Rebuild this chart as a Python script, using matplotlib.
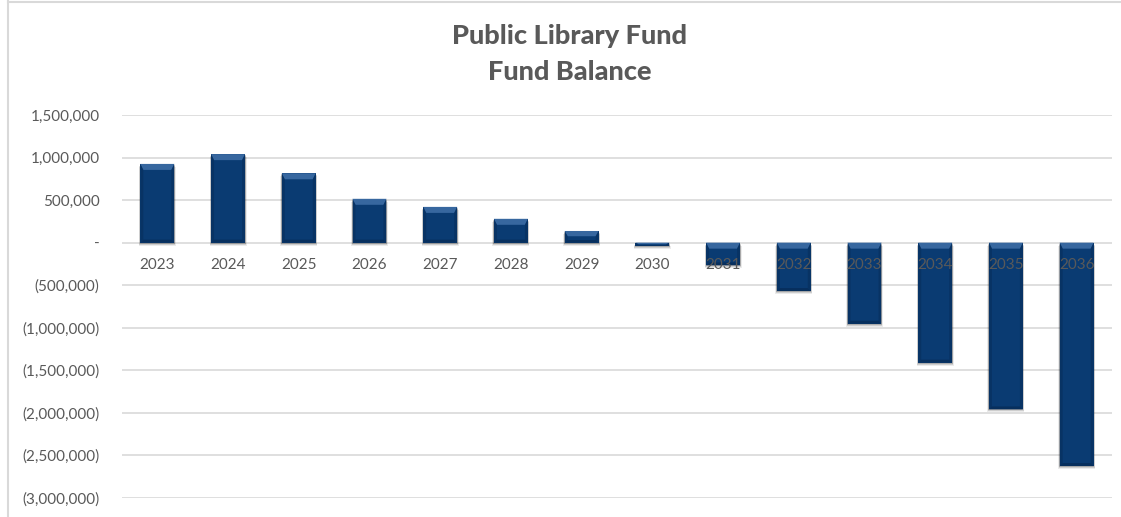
import numpy as np
import matplotlib
matplotlib.use("Agg")
import matplotlib.pyplot as plt
from matplotlib.patches import Polygon, Rectangle
from matplotlib.ticker import FuncFormatter

plt.rcParams.update({"font.family": ["Lato", "DejaVu Sans"]})

# fund balance by fiscal year
years = ["2023", "2024", "2025", "2026", "2027", "2028", "2029",
         "2030", "2031", "2032", "2033", "2034", "2035", "2036"]
balance = [925000, 1040000, 815000, 515000, 420000, 280000, 137000,
           -40000, -267000, -569000, -953000, -1410000, -1960000, -2625000]

TXT = "#595959"
GRID = "#d9d9d9"
NAVY = "#0a3b72"
NAVY_LIGHT = "#37679f"
NAVY_DARK = "#062a55"

fig = plt.figure(figsize=(11.21, 5.17), dpi=100)
ax = fig.add_axes([0.1088, 0.0368, 0.8832, 0.7408])

x = np.arange(len(years))
ax.set_xlim(-0.5, len(years) - 0.5)
ax.set_ylim(-3000000, 1500000)

# pixel -> data unit helpers for the bevel edges
px_x = (len(years)) / (0.8832 * 1121)
px_y = 4500000 / (0.7408 * 517)

bars = ax.bar(x, balance, width=0.48, color=NAVY, zorder=2)

for b in bars:
    x0, w = b.get_x(), b.get_width()
    y0 = b.get_y()
    y1 = y0 + b.get_height()
    lo, hi = min(y0, y1), max(y0, y1)
    # soft drop shadow
    for k, a in ((3, 0.08), (2, 0.12), (1, 0.16)):
        ax.add_patch(Rectangle((x0 - k * px_x * 0.5, lo - k * px_y), w + k * px_x,
                               hi - lo, color="#000000", alpha=a, lw=0, zorder=1.5))
    bev = min(6 * px_y, (hi - lo) * 0.45)
    side = 3 * px_x
    # lighter top bevel
    ax.add_patch(Polygon([(x0, hi), (x0 + w, hi), (x0 + w - side, hi - bev),
                          (x0 + side, hi - bev)], closed=True,
                         color=NAVY_LIGHT, lw=0, zorder=2.1))
    # darker side and bottom edges
    ax.add_patch(Polygon([(x0, hi), (x0 + side, hi - bev), (x0 + side, lo + bev * 0.5),
                          (x0, lo)], closed=True, color=NAVY_DARK, alpha=0.45,
                         lw=0, zorder=2.1))
    ax.add_patch(Polygon([(x0 + w, hi), (x0 + w - side, hi - bev),
                          (x0 + w - side, lo + bev * 0.5), (x0 + w, lo)], closed=True,
                         color=NAVY_DARK, alpha=0.45, lw=0, zorder=2.1))
    ax.add_patch(Polygon([(x0, lo), (x0 + w, lo), (x0 + w - side, lo + bev * 0.5),
                          (x0 + side, lo + bev * 0.5)], closed=True,
                         color=NAVY_DARK, alpha=0.7, lw=0, zorder=2.1))


def money(v, pos):
    if v == 0:
        return "-"
    if v < 0:
        return "({:,.0f})".format(-v)
    return "{:,.0f}".format(v)


ax.set_yticks(np.arange(-3000000, 1500001, 500000))
ax.yaxis.set_major_formatter(FuncFormatter(money))
ax.grid(axis="y", color=GRID, lw=1.2)
ax.set_axisbelow(True)

ax.set_xticks(x)
ax.set_xticklabels(years)
ax.spines["bottom"].set_position(("data", 0))
for s in ax.spines.values():
    s.set_visible(False)
ax.tick_params(axis="both", length=0, colors=TXT, labelsize=11)
ax.tick_params(axis="y", pad=16)
ax.tick_params(axis="x", pad=11)
# year labels sit on top of the negative bars
ax.xaxis.set_zorder(5)

fig.text(0.508, 0.895, "Public Library Fund\nFund Balance", ha="center", va="center",
         fontsize=19.5, fontweight="black", color=TXT, linespacing=1.6)

# chart frame edges
fig.add_artist(plt.Line2D([7.5 / 1121, 7.5 / 1121], [0, 1], color=GRID, lw=1.5))
fig.add_artist(plt.Line2D([7.5 / 1121, 1], [1 - 1.5 / 517, 1 - 1.5 / 517], color=GRID, lw=1.5))

fig.savefig("out.png", dpi=100)
